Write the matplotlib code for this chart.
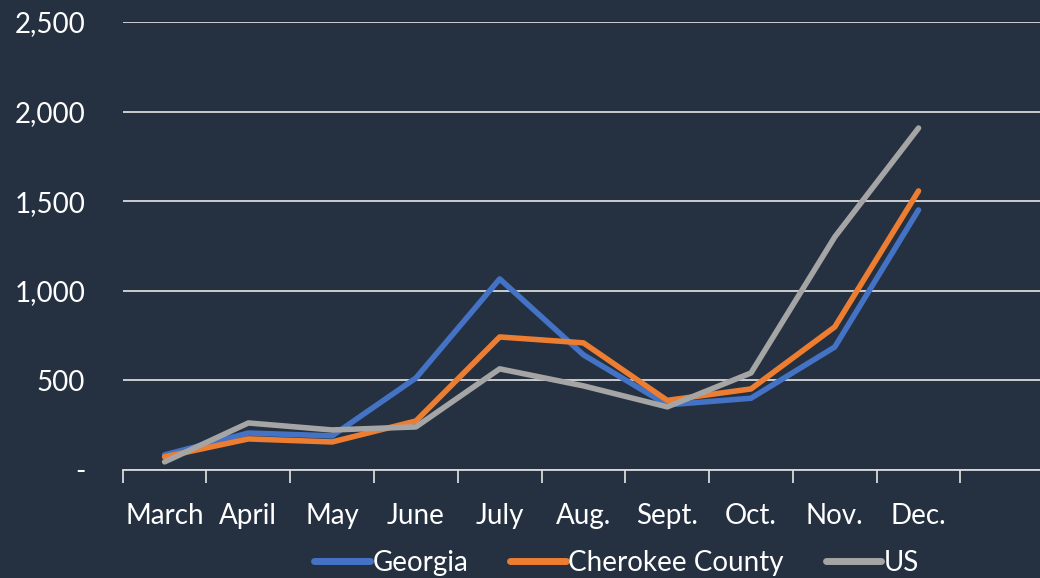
import matplotlib
matplotlib.use("Agg")
import matplotlib.pyplot as plt
from matplotlib.ticker import FuncFormatter

plt.rcParams['font.family'] = ['Lato', 'DejaVu Sans']

months = ["March", "April", "May", "June", "July", "Aug.", "Sept.", "Oct.", "Nov.", "Dec."]
georgia = [84, 206, 190, 513, 1066, 642, 363, 400, 686, 1451]
cherokee = [73, 173, 156, 273, 742, 709, 388, 452, 798, 1557]
us = [45, 262, 223, 240, 564, 469, 352, 541, 1300, 1908]

bg = "#253141"
grid_col = "#D9D9D9"
txt = "#FFFFFF"

fig = plt.figure(figsize=(10.4, 5.78), dpi=100, facecolor=bg)
ax = fig.add_axes([0.118, 0.187, 0.882, 0.775], facecolor=bg)

x = list(range(len(months)))
ax.plot(x, georgia, color="#4472C4", lw=4, solid_capstyle="round", solid_joinstyle="round", label="Georgia")
ax.plot(x, cherokee, color="#ED7D31", lw=4, solid_capstyle="round", solid_joinstyle="round", label="Cherokee County")
ax.plot(x, us, color="#A5A5A5", lw=4, solid_capstyle="round", solid_joinstyle="round", label="US")

ax.set_xlim(-0.5, 10.45)
ax.set_ylim(0, 2500)
ax.set_yticks([0, 500, 1000, 1500, 2000, 2500])
ax.yaxis.set_major_formatter(FuncFormatter(lambda v, p: "-" if v == 0 else f"{int(v):,}"))
ax.grid(axis="y", color=grid_col, lw=1.3)
ax.set_axisbelow(True)

# category labels at points, tick marks between categories
ax.set_xticks(x)
ax.set_xticklabels(months)
ax.set_xticks([i - 0.5 for i in range(len(months) + 1)], minor=True)
ax.tick_params(axis="x", which="major", length=0, pad=24, labelsize=20, labelcolor=txt)
ax.tick_params(axis="x", which="minor", length=9, width=1.3, color=grid_col)
ax.tick_params(axis="y", length=0, pad=27, labelsize=20, labelcolor=txt)

for s in ["top", "right", "left"]:
    ax.spines[s].set_visible(False)
ax.spines["bottom"].set_color(grid_col)
ax.spines["bottom"].set_linewidth(1.3)

leg = fig.legend(loc="center", bbox_to_anchor=(0.593, 0.026), ncol=3, frameon=False,
                 fontsize=20, handlelength=2.0, handletextpad=0.1, columnspacing=1.5)
for t in leg.get_texts():
    t.set_color(txt)
for h in leg.legend_handles:
    h.set_linewidth(5)

fig.savefig("out.png", dpi=100, facecolor=bg)
